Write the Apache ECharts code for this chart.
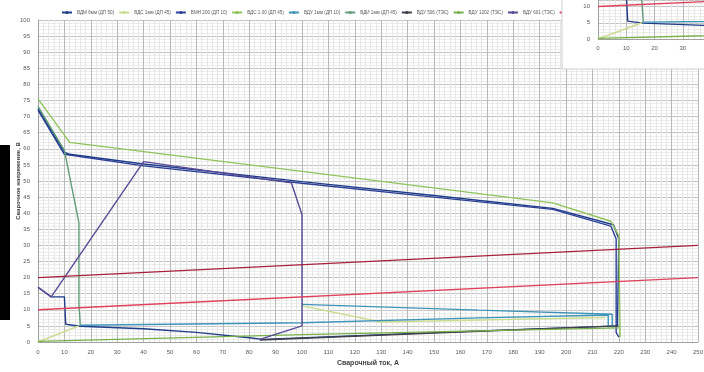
<!DOCTYPE html>
<html><head><meta charset="utf-8">
<script src="https://cdn.jsdelivr.net/npm/echarts@6/dist/echarts.min.js"></script>
<style>html,body{margin:0;padding:0;background:#fff}#c{width:704px;height:372px}</style>
</head><body><div id="c"></div>
<script>
// ---- data (current A, voltage V) ----
const xTicks = [0, 250, 10];
const yTicks = [0, 100, 5];
const seriesNames = ['ВДМ 6мм (ДП 50)', 'ВДС 1мм (ДП 45)', 'ВМН 200 (ДП 10)', 'ВДС 1.00 (ДП 45)', 'ВДУ 1мм (ДП 10)', 'ВДИ 1мм (ДП 45)', 'ВДУ 506 (ТЭС)', 'ВДУ 1202 (ТЭС)', 'ВДУ 601 (ТЭС)', 'Нагрузка 1', 'Нагрузка 2'];
const navyLoop = [[0,17],[5,14],[10,14],[10.5,5.5],[16,4.9],[40,4.1],[60,3.0],[80,1.3],[85,0.8],[150,2.9],[219.5,5],[220,32],[218,36.4],[195,41.5],[150,45.5],[100,49.8],[40,55.3],[12,58.3],[10,59],[0,72.5]];
const paleLine = [[0,0],[15.5,5],['-','-'],[100,11.2],[130,6.2],[215,7.6]];
const blueTop = [[0,72],[10,58.3],[40,54.7],[100,49.3],[150,45],[195,41.2],[217,36],[219,32],[219,3],[220,1.5]];
const greenTop = [[0,75.5],[12,62],[100,53],[195,43.2],[217,37.5],[220,33],[220.5,1.5]];
const tealWedge = [[16,5.2],[100,6],[167,7.5],[216,8.4],[216,4.5],['-','-'],[100,11.7],[167,9.9],[217.5,8.6],[217.5,4.5]];
const greenDrop = [[0,73.2],[10,59.5],[15.5,37],[15.5,12],[16,5.2]];
const grayBottom = [[84,0.6],[150,2.8],[220,5]];
const greenBottom = [[0,0.2],[100,2.3],[220,4.4]];
const purpleLoop = [[0,17],[5,14],[40,56],[96,49.4],[100,39.5],[100,5],[84,0.8]];
const redLow = [[0,10],[250,20]];
const redHigh = [[0,20],[250,30]];

const defs = [
  {name: seriesNames[0], data: navyLoop, color: '#1f3d8a'},
  {name: seriesNames[1], data: paleLine, color: '#c9dc8f'},
  {name: seriesNames[2], data: blueTop, color: '#2b3f96'},
  {name: seriesNames[3], data: greenTop, color: '#8fc45a'},
  {name: seriesNames[4], data: tealWedge, color: '#3e93b8'},
  {name: seriesNames[5], data: greenDrop, color: '#5f9c78'},
  {name: seriesNames[6], data: grayBottom, color: '#3f3f4a'},
  {name: seriesNames[7], data: greenBottom, color: '#78b04a'},
  {name: seriesNames[8], data: purpleLoop, color: '#5a4a96'},
  {name: seriesNames[9], data: redLow, color: '#e0405a'},
  {name: seriesNames[10], data: redHigh, color: '#a8203c'}
];

const series = [];
defs.forEach(d => {
  [0, 1].forEach(g => {
    series.push({
      type: 'line', name: d.name, data: d.data, xAxisIndex: g, yAxisIndex: g,
      showSymbol: false, symbol: 'none', connectNulls: false, clip: true,
      lineStyle: {width: 1.4, color: d.color}, itemStyle: {color: d.color},
      z: g ? 30 : 2, animation: false
    });
  });
});

const chart = echarts.init(document.getElementById('c'), null, {renderer: 'canvas'});
const lab = {fontSize: 6, color: '#595959', fontFamily: 'Liberation Sans'};
chart.setOption({
  backgroundColor: '#fff',
  animation: false,
  legend: {
    top: 5, left: 56, width: 1200, itemWidth: 10, itemHeight: 4, itemGap: 4, z: 4,
    textStyle: {fontSize: 4.6, color: '#595959', fontFamily: 'Liberation Sans'},
    data: seriesNames
  },
  grid: [
    {left: 38, right: 6, top: 20, bottom: 30, outerBoundsMode: 'none', containLabel: false},
    {left: 598, right: 0, top: 0, height: 39, outerBoundsMode: 'none', containLabel: false}
  ],
  xAxis: [
    {type: 'value', gridIndex: 0, min: xTicks[0], max: xTicks[1], interval: xTicks[2],
     name: 'Сварочный ток, А', nameLocation: 'middle', nameGap: 17,
     nameTextStyle: {fontSize: 7, fontWeight: 'bold', color: '#404040', fontFamily: 'Liberation Sans'},
     axisLine: {lineStyle: {color: '#a0a0a0'}}, axisTick: {show: false},
     axisLabel: Object.assign({margin: 7}, lab),
     splitLine: {lineStyle: {color: '#b8b8b8', width: 1}},
     minorTick: {show: false, splitNumber: 5},
     minorSplitLine: {show: true, lineStyle: {color: '#e6e6e6', width: 1}}},
    {type: 'value', gridIndex: 1, min: 0, max: 37.5, interval: 10, z: 20,
     axisLine: {lineStyle: {color: '#a0a0a0'}}, axisTick: {show: false},
     axisLabel: Object.assign({margin: 6, showMaxLabel: false}, lab),
     splitLine: {lineStyle: {color: '#b8b8b8', width: 1}},
     minorTick: {show: false, splitNumber: 5},
     minorSplitLine: {show: true, lineStyle: {color: '#e6e6e6', width: 1}}}
  ],
  yAxis: [
    {type: 'value', gridIndex: 0, min: yTicks[0], max: yTicks[1], interval: yTicks[2],
     name: 'Сварочное напряжение, В', nameLocation: 'middle', nameGap: 17, nameRotate: 90,
     nameMoveOverlap: false,
     nameTextStyle: {fontSize: 6, fontWeight: 'bold', color: '#404040', fontFamily: 'Liberation Sans'},
     axisLine: {show: true, lineStyle: {color: '#a0a0a0'}}, axisTick: {show: false},
     axisLabel: Object.assign({margin: 8}, lab),
     splitLine: {lineStyle: {color: '#c4c4c4', width: 1}},
     minorTick: {show: false, splitNumber: 5},
     minorSplitLine: {show: true, lineStyle: {color: '#ececec', width: 1}}},
    {type: 'value', gridIndex: 1, min: 0, max: 12, interval: 5, z: 20,
     axisLine: {show: true, lineStyle: {color: '#a0a0a0'}}, axisTick: {show: false},
     axisLabel: Object.assign({margin: 8, showMaxLabel: false}, lab),
     splitLine: {lineStyle: {color: '#c4c4c4', width: 1}},
     minorTick: {show: false, splitNumber: 5},
     minorSplitLine: {show: true, lineStyle: {color: '#ececec', width: 1}}}
  ],
  graphic: [
    {type: 'rect', z: 10, shape: {x: 562, y: -1, width: 143, height: 70},
     style: {fill: '#fff', stroke: '#d0d0d0', lineWidth: 1}},
    {type: 'rect', z: 10, shape: {x: 0, y: 145, width: 10, height: 175},
     style: {fill: '#000'}}
  ],
  series: series
});
</script></body></html>
